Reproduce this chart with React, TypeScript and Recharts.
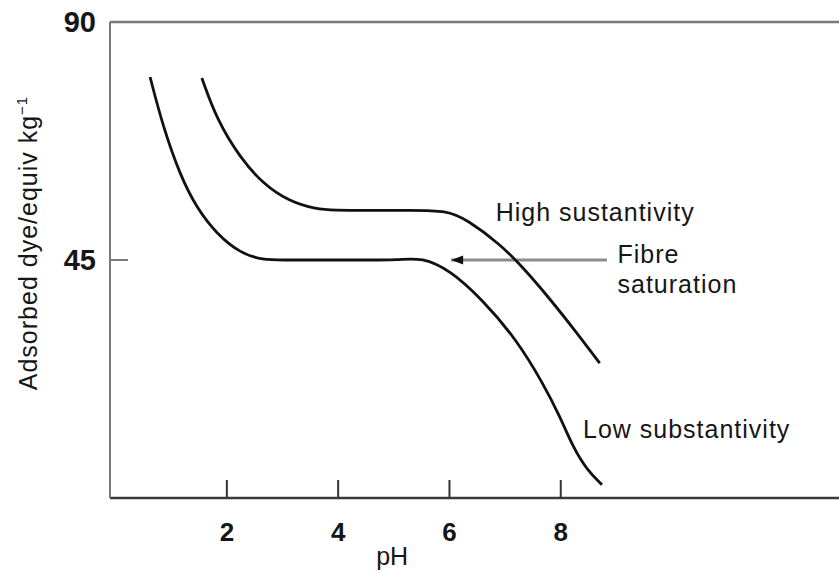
import React from 'react';
import { LineChart, Line, XAxis, YAxis, ReferenceLine, ReferenceDot } from 'recharts';

// pH / adsorbed dye
const lowPH = [0.62, 0.85, 1.16, 1.46, 1.82, 2.24, 2.65, 3.0, 3.6, 4.4, 5.1, 5.5, 6.01, 6.6, 7.21, 7.68, 7.99, 8.22, 8.47, 8.74];
const lowVal = [79.6, 70.3, 61.0, 54.8, 49.9, 46.3, 45.0, 45.0, 45.0, 45.0, 45.0, 45.5, 43.1, 37.4, 29.9, 21.7, 15.3, 9.6, 5.3, 2.5];

const highPH = [1.55, 1.82, 2.24, 2.65, 3.13, 3.62, 3.9, 4.6, 5.3, 5.95, 6.32, 6.91, 7.32, 7.81, 8.29, 8.7];
const highVal = [79.4, 71.5, 64.3, 59.4, 56.0, 54.6, 54.4, 54.4, 54.4, 54.4, 52.6, 48.0, 43.6, 37.6, 31.2, 25.5];

const arrowPH = [6.03, 8.83];
const saturationLevel = 45;

const xTicks = [2, 4, 6, 8];
const yTicks = [45, 90];

const lowData = lowPH.map((ph, i) => ({ ph, v: lowVal[i] }));
const highData = highPH.map((ph, i) => ({ ph, v: highVal[i] }));
const arrowData = arrowPH.map((ph) => ({ ph, v: saturationLevel }));

const FONT = '"Liberation Sans", Arial, Helvetica, sans-serif';
const TEXT = '#161616';

const YTick = (props: any) => {
  const { x, y, payload } = props;
  return (
    <g>
      {payload.value !== 90 && (
        <line x1={x + 14} x2={x + 32} y1={y} y2={y} stroke="#7a7a7a" strokeWidth={2} />
      )}
      <text x={x} y={y} dy="0.36em" textAnchor="end" fontFamily={FONT} fontWeight="bold" fontSize={29} fill={TEXT}>
        {payload.value}
      </text>
    </g>
  );
};

const XTick = (props: any) => {
  const { x, y, payload } = props;
  return (
    <g>
      <line x1={x} x2={x} y1={y} y2={y - 18} stroke="#333" strokeWidth={2} />
      <text x={x} y={y + 43} textAnchor="middle" fontFamily={FONT} fontWeight="bold" fontSize={26} fill={TEXT}>
        {payload.value}
      </text>
    </g>
  );
};

const YLabel = (props: any) => {
  const vb = props.viewBox || { x: 0, y: 22, width: 110, height: 476 };
  const cx = vb.x + 37;
  const cy = vb.y + vb.height / 2 - 17;
  return (
    <text
      x={cx}
      y={cy}
      transform={`rotate(-90, ${cx}, ${cy})`}
      textAnchor="middle"
      fontFamily={FONT}
      fontSize={25}
      fill={TEXT}
      style={{ letterSpacing: 1 }}
    >
      Adsorbed dye/equiv kg
      <tspan fontSize={15} dy={-10}>−1</tspan>
    </text>
  );
};

const note = (lines: string[]) => (props: any) => (
  <text x={props.cx} y={props.cy} fontFamily={FONT} fontSize={25} fill={TEXT} style={{ letterSpacing: 1 }}>
    {lines.map((s, i) => (
      <tspan key={i} x={props.cx} dy={i === 0 ? 0 : 30}>
        {s}
      </tspan>
    ))}
  </text>
);

const ArrowHead = (props: any) => {
  const { cx, cy, index } = props;
  if (index !== 0) return <g key={`a${index}`} />;
  return <polygon key={`a${index}`} points={`${cx},${cy} ${cx + 12},${cy - 4.5} ${cx + 12},${cy + 4.5}`} fill="#111" />;
};

export default function App() {
  return (
    <div style={{ position: 'absolute', left: 0, top: 0, width: 839, height: 571, background: '#fff' }}>
      <LineChart width={839} height={571} margin={{ top: 22, right: 0, bottom: 0, left: 0 }}>
        <XAxis
          type="number"
          dataKey="ph"
          domain={[-0.1, 13]}
          ticks={xTicks}
          height={73}
          tickSize={0}
          tickMargin={0}
          tickLine={false}
          axisLine={{ stroke: '#3a3a3a', strokeWidth: 2.5 }}
          tick={<XTick />}
          allowDataOverflow
        />
        <YAxis
          type="number"
          domain={[0, 90]}
          ticks={yTicks}
          width={110}
          tickSize={0}
          tickMargin={14}
          tickLine={false}
          axisLine={{ stroke: '#777', strokeWidth: 2 }}
          tick={<YTick />}
          label={YLabel}
          allowDataOverflow
        />
        <ReferenceLine y={90} stroke="#7a7a7a" strokeWidth={2.5} />
        <Line
          data={arrowData}
          dataKey="v"
          stroke="#8c8c8c"
          strokeWidth={3}
          dot={ArrowHead}
          activeDot={false}
          isAnimationActive={false}
        />
        <Line
          data={highData}
          dataKey="v"
          type="basis"
          stroke="#111"
          strokeWidth={2.8}
          dot={false}
          activeDot={false}
          isAnimationActive={false}
        />
        <Line
          data={lowData}
          dataKey="v"
          type="basis"
          stroke="#111"
          strokeWidth={2.8}
          dot={false}
          activeDot={false}
          isAnimationActive={false}
        />
        <ReferenceDot x={6.83} y={52.4} r={0} ifOverflow="visible" shape={note(['High sustantivity'])} />
        <ReferenceDot x={9.02} y={44.4} r={0} ifOverflow="visible" shape={note(['Fibre', 'saturation'])} />
        <ReferenceDot x={8.4} y={11.3} r={0} ifOverflow="visible" shape={note(['Low substantivity'])} />
        <ReferenceDot x={4.97} y={0} r={0} ifOverflow="visible" shape={(p: any) => (
          <text x={p.cx} y={p.cy + 67} textAnchor="middle" fontFamily={FONT} fontSize={25} fill={TEXT}>pH</text>
        )} />
      </LineChart>
    </div>
  );
}
